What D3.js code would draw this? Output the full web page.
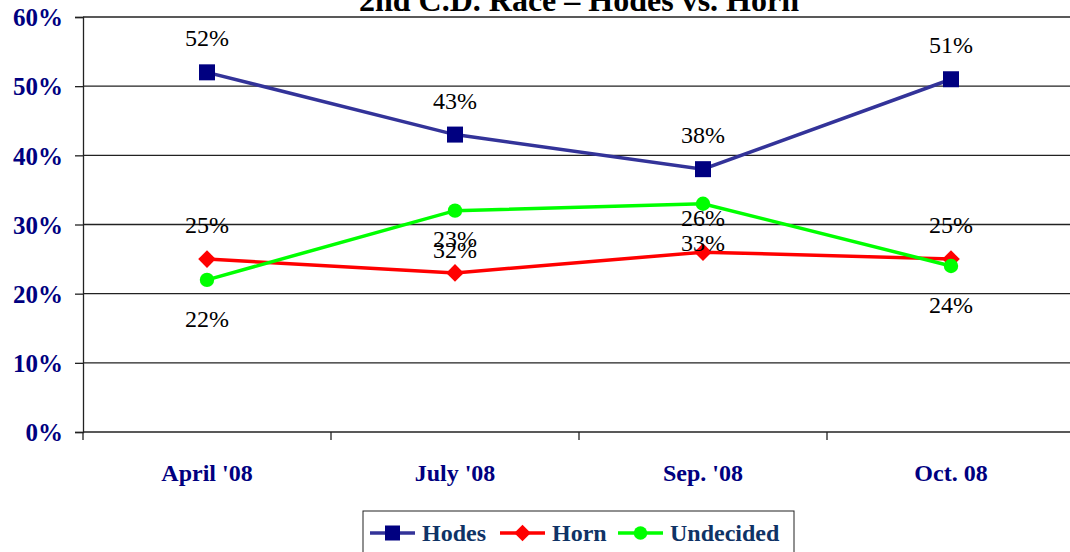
<!DOCTYPE html>
<html lang="en">
<head>
<meta charset="UTF-8">
<title>2nd C.D. Race</title>
<script src="https://d3js.org/d3.v7.min.js"></script>
<style>
    body { margin: 0; background: #fff; }
    svg { display: block; }
    svg text { font-family: "Liberation Serif", "Times New Roman", serif; }
</style>
</head>
<body>
<svg id="chart" width="1070" height="552"></svg>
<script>
    // chart data
    const months = ["April '08", "July '08", "Sep. '08", "Oct. 08"];
    const hodes = [52, 43, 38, 51];
    const horn = [25, 23, 26, 25];
    const undecided = [22, 32, 33, 24];
    const yTicks = [0, 10, 20, 30, 40, 50, 60];

    const series = [
        { name: "Hodes", values: hodes, line: "#333399", fill: "#000080", shape: "square", labelPos: "above" },
        { name: "Horn", values: horn, line: "#ff0000", fill: "#ff0000", shape: "diamond", labelPos: "above" },
        { name: "Undecided", values: undecided, line: "#00ff00", fill: "#00ff00", shape: "circle", labelPos: "below" }
    ];

    const serif = '"Liberation Serif", "Times New Roman", serif';
    const svg = d3.select("#chart");
    const margin = { top: 17, left: 83, bottom: 432 };
    const band = 248;

    const x = d3.scaleBand().domain(months).range([margin.left, margin.left + band * months.length]);
    const y = d3.scaleLinear().domain([0, 60]).range([margin.bottom, margin.top]);

    // gridlines
    svg.append("g").selectAll("line").data(yTicks.filter(d => d > 0)).enter().append("line")
        .attr("x1", margin.left).attr("x2", 1070)
        .attr("y1", d => y(d)).attr("y2", d => y(d))
        .attr("stroke", "#222").attr("stroke-width", 1.3);

    // y axis
    const yAxis = svg.append("g").attr("transform", `translate(${margin.left},0)`)
        .call(d3.axisLeft(y).tickValues(yTicks).tickSize(8).tickPadding(12).tickFormat(d => d + "%"));
    yAxis.attr("font-family", serif).attr("font-size", 25);
    yAxis.select(".domain").attr("stroke", "#222").attr("stroke-width", 1.3);
    yAxis.selectAll(".tick line").attr("stroke", "#222").attr("stroke-width", 1.3);
    yAxis.selectAll(".tick text").attr("font-weight", "bold").attr("fill", "#000080").attr("dy", "0.35em");

    // x axis
    const xAxis = svg.append("g").attr("transform", `translate(0,${margin.bottom})`)
        .call(d3.axisBottom(x).tickSize(0).tickPadding(32));
    xAxis.attr("font-family", serif).attr("font-size", 24);
    xAxis.select(".domain").remove();
    xAxis.append("line").attr("x1", margin.left).attr("x2", 1070)
        .attr("stroke", "#222").attr("stroke-width", 1.6);
    xAxis.selectAll(".tick text").attr("font-weight", "bold").attr("fill", "#000080");
    const bounds = d3.range(months.length).map(i => margin.left + band * i);
    xAxis.selectAll(".bound").data(bounds).enter().append("line")
        .attr("x1", d => d).attr("x2", d => d).attr("y1", 0).attr("y2", 8)
        .attr("stroke", "#222").attr("stroke-width", 1.3);

    const cx = i => x(months[i]) + x.bandwidth() / 2;
    const line = d3.line().x((d, i) => cx(i)).y(d => y(d));

    function marker(g, s, px, py, size) {
        if (s.shape === "square") {
            g.append("rect").attr("x", px - size / 2).attr("y", py - size / 2)
                .attr("width", size).attr("height", size).attr("fill", s.fill);
        } else if (s.shape === "diamond") {
            const h = size * 0.55;
            g.append("path").attr("d", `M${px},${py - h}L${px + h},${py}L${px},${py + h}L${px - h},${py}Z`)
                .attr("fill", s.fill);
        } else {
            g.append("circle").attr("cx", px).attr("cy", py).attr("r", size * 0.45).attr("fill", s.fill);
        }
    }

    series.forEach(s => {
        const g = svg.append("g");
        g.append("path").datum(s.values).attr("d", line)
            .attr("fill", "none").attr("stroke", s.line).attr("stroke-width", 3.5);
        s.values.forEach((v, i) => marker(g, s, cx(i), y(v), 16));
    });

    // data labels
    series.forEach(s => {
        svg.append("g").selectAll("text").data(s.values).enter().append("text")
            .attr("font-family", serif).attr("font-size", 24).attr("fill", "#000")
            .attr("text-anchor", "middle")
            .attr("x", (d, i) => cx(i))
            .attr("y", d => s.labelPos === "above" ? y(d) - 26 : y(d) + 47)
            .text(d => d + "%");
    });

    // title
    svg.append("text").attr("x", 579).attr("y", 11).attr("text-anchor", "middle")
        .attr("font-family", serif).attr("font-size", 32).attr("font-weight", "bold").attr("fill", "#000")
        .text("2nd C.D. Race \u2013 Hodes vs. Horn");

    // legend
    const legend = svg.append("g");
    legend.append("rect").attr("x", 363).attr("y", 511).attr("width", 431).attr("height", 45)
        .attr("fill", "#fff").attr("stroke", "#222").attr("stroke-width", 1);
    const legendX = [370, 500, 618];
    series.forEach((s, i) => {
        const lx = legendX[i], ly = 533;
        legend.append("line").attr("x1", lx).attr("x2", lx + 45).attr("y1", ly).attr("y2", ly)
            .attr("stroke", s.line).attr("stroke-width", 3.5);
        marker(legend, s, lx + 22.5, ly, 15);
        legend.append("text").attr("x", lx + 52).attr("y", ly + 8)
            .attr("font-family", serif).attr("font-size", 24).attr("font-weight", "bold").attr("fill", "#0f3366")
            .text(s.name);
    });
</script>
</body>
</html>
